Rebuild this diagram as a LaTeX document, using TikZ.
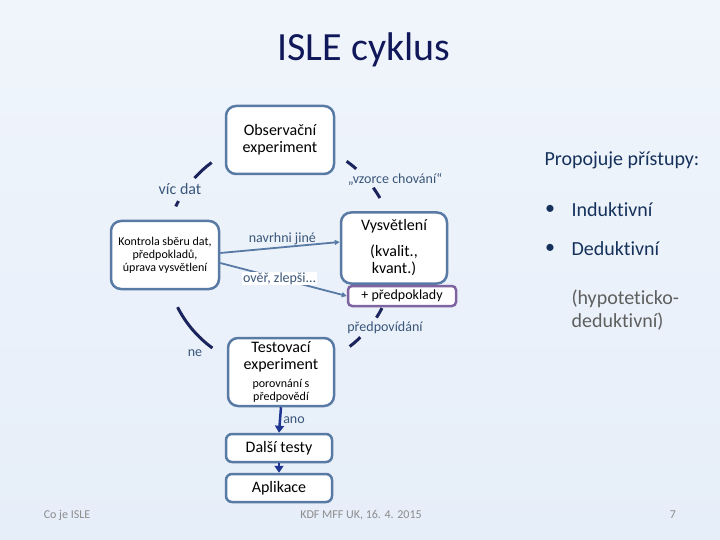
\documentclass[tikz,border=0pt]{standalone}
\usepackage{fontspec}
\setmainfont[Ligatures=NoCommon]{Carlito}
\usepackage{xcolor}
\usetikzlibrary{arrows.meta}

\definecolor{boxblue}{RGB}{88,122,164}
\definecolor{cyclenavy}{RGB}{27,36,92}
\definecolor{labelblue}{RGB}{58,86,122}
\definecolor{textnavy}{RGB}{22,50,92}
\definecolor{titlenavy}{RGB}{16,24,90}
\definecolor{purplebox}{RGB}{128,100,162}
\definecolor{arrowblue}{RGB}{30,54,146}
\definecolor{bgtop}{RGB}{240,245,251}
\definecolor{bgbottom}{RGB}{230,238,249}
\definecolor{grayhint}{RGB}{95,95,95}
\definecolor{footgray}{RGB}{140,140,140}

\newcommand{\boxfont}{\fontsize{16}{17}\selectfont}
\newcommand{\smallfont}{\fontsize{12}{13}\selectfont}
\newcommand{\sidefont}{\fontsize{20}{23}\selectfont}

\begin{document}
\begin{tikzpicture}[x=1pt,y=1pt,
		box/.style={draw=boxblue,line width=2.5pt,fill=white,rounded corners=10pt,align=center,inner sep=2pt,font=\boxfont},
		lab/.style={text=labelblue,font=\fontsize{14}{16}\selectfont,inner sep=1pt},
		cyc/.style={draw=cyclenavy,line width=3pt},
		link/.style={draw=boxblue,line width=1.8pt,-{Triangle[length=5pt,width=5pt]}},
		godown/.style={draw=arrowblue,line width=2.5pt,-{Triangle[length=7pt,width=9pt]}},
		foot/.style={text=footgray,font=\fontsize{12}{14}\selectfont}]
		\shade[top color=bgtop,middle color=white,bottom color=bgbottom] (0,0) rectangle (720,-540);
		
		\node[text=titlenavy,font=\fontsize{40}{44}\selectfont] (title) at (364,-50) {ISLE cyklus};
		
		% boxes of the cycle
		\node[box,minimum width=108,minimum height=68] (obs) at (280,-140) {Observační\\experiment};
		\node[box,minimum width=108,minimum height=68,font=\smallfont] (kon) at (165,-255) {Kontrola sběru dat,\\předpokladů,\\úprava vysvětlení};
		\node[box,minimum width=106,minimum height=71] (vys) at (394,-248) {Vysvětlení\\[9pt](kvalit.,\\kvant.)};
		\node[box,draw=purplebox,rounded corners=4pt,minimum width=108,minimum height=20,font=\fontsize{14}{16}\selectfont] (pred) at (402,-296) {+ předpoklady};
		\node[box,minimum width=106,minimum height=68] (test) at (281,-372) {Testovací\\experiment\\[1pt]\smallfont porovnání s\\[-4pt]\smallfont předpovědí};
		\node[box,rounded corners=6pt,minimum width=106,minimum height=28] (dal) at (279,-448) {Další testy};
		\node[box,rounded corners=6pt,minimum width=106,minimum height=28] (apl) at (279,-488) {Aplikace};
		
		% pieces of the cycle
		\coordinate (ring) at (280,-255);
		\foreach \a/\b in {126.5/138,152/155,207/234,54.6/48.5,35.8/29.7,-27.5/-33,-45.7/-52.7}
			\draw[cyc] (ring) ++(\a:115) arc[start angle=\a,end angle=\b,radius=115];
		
		\node[lab,font=\fontsize{16}{18}\selectfont] (vic) at (180,-189) {víc dat};
		\node[lab] (vzor) at (395,-180) {„vzorce chování“};
		\node[lab] (pv) at (385,-328) {předpovídání};
		\node[lab] (ne) at (195,-353) {ne};
		
		% links
		\draw[link] ([yshift=2pt]kon.east) -- node[lab,above,pos=0.52] {navrhni jiné} ([yshift=6pt]vys.west);
		\draw[link] ([yshift=-8pt]kon.east) -- node[lab,fill=white,pos=0.47] {ověř, zlepši...} (pred.west);
		\draw[godown] (test.south) -- node[lab,right=1pt] {ano} (dal.north);
		\draw[godown] (dal.south) -- (apl.north);
		
		% side text
		\node[anchor=west,text=textnavy,font=\sidefont] (prop) at (541,-160) {Propojuje přístupy:};
		\node[text=textnavy,font=\sidefont] (b1) at (550,-210) {•};
		\node[anchor=west,text=textnavy,font=\sidefont] (ind) at (568,-210) {Induktivní};
		\node[text=textnavy,font=\sidefont] (b2) at (550,-249) {•};
		\node[anchor=west,text=textnavy,font=\sidefont] (ded) at (568,-249) {Deduktivní};
		\node[anchor=west,text=grayhint,font=\sidefont,align=left] (hyp) at (568,-310) {(hypoteticko-\\deduktivní)};
		
		% footer
		\node[foot] (f1) at (67,-515) {Co je ISLE};
		\node[foot] (f2) at (361,-515) {KDF MFF UK, 16. 4. 2015};
		\node[foot] (f3) at (673,-515) {7};
\end{tikzpicture}
\end{document}
